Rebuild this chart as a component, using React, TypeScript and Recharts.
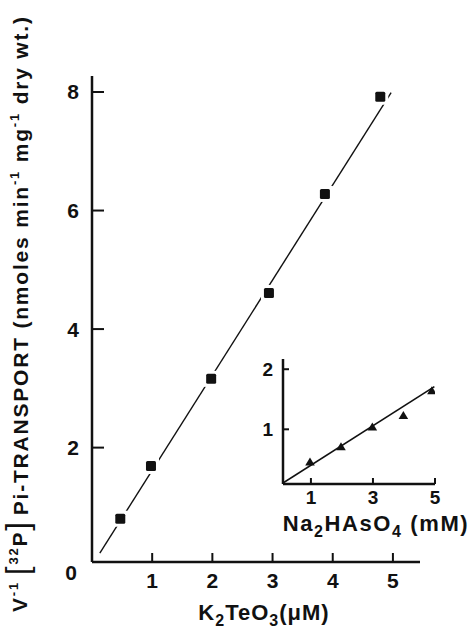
import React from "react";
import { Scatter, ScatterChart, XAxis, YAxis } from "recharts";

// main plot: K2TeO3 (uM) vs 1/v
const telluriteConc = [0.47, 0.98, 1.98, 2.94, 3.87, 4.79];
const inverseRate = [0.8, 1.69, 3.16, 4.61, 6.28, 7.92];
const telluriteFitX = [0.13, 4.97];
const telluriteFitY = [0.22, 7.99];
const mainXTicks = [0, 1, 2, 3, 4, 5];
const mainYTicks = [2, 4, 6, 8];

// inset: Na2HAsO4 (mM)
const arsenateConc = [0.97, 1.97, 2.98, 3.98, 4.9];
const arsenateRate = [0.455, 0.71, 1.04, 1.23, 1.64];
const arsenateFitX = [0.08, 4.98];
const arsenateFitY = [0.1, 1.71];
const insetXTicks = [1, 3, 5];
const insetYTicks = [1, 2];

const FONT = "'Liberation Sans', Arial, sans-serif";
const INK = "#111";

const zip = (xs: number[], ys: number[]) => xs.map((x, i) => ({ x, y: ys[i] }));

const mainPoints = zip(telluriteConc, inverseRate);
const mainFit = zip(telluriteFitX, telluriteFitY);
const insetPoints = zip(arsenateConc, arsenateRate);
const insetFit = zip(arsenateFitX, arsenateFitY);

function Square({ cx, cy }: { cx?: number; cy?: number }) {
  if (cx == null || cy == null) return <g />;
  return (
    <g>
      <rect x={cx - 8} y={cy - 8} width={16} height={16} fill="#fff" />
      <rect x={cx - 5} y={cy - 5} width={10} height={10} rx={1.5} fill={INK} />
    </g>
  );
}

function Triangle({ cx, cy }: { cx?: number; cy?: number }) {
  if (cx == null || cy == null) return <g />;
  return <path d={`M${cx},${cy - 4.5} L${cx + 4.8},${cy + 3.5} L${cx - 4.8},${cy + 3.5} Z`} fill={INK} />;
}

const NoDot = () => <g />;

function MainXTick({ x, y, payload }: any) {
  const zero = payload.value === 0;
  return (
    <text
      x={zero ? x - 21 : x}
      y={zero ? y - 8 : y}
      dy="0.71em"
      textAnchor="middle"
      fontFamily={FONT}
      fontWeight="bold"
      fontSize={21}
      fill={INK}
    >
      {payload.value}
    </text>
  );
}

function NumTick({ x, y, payload, textAnchor, size, vertical }: any) {
  return (
    <text
      x={x}
      y={y}
      dy={vertical ? "0.355em" : "0.71em"}
      textAnchor={textAnchor}
      fontFamily={FONT}
      fontWeight="bold"
      fontSize={size}
      fill={INK}
    >
      {payload.value}
    </text>
  );
}

const axisLine = { stroke: INK, strokeWidth: 2.5 };
const tickLine = { stroke: INK, strokeWidth: 2 };

function Labels() {
  return (
    <svg
      width={470}
      height={632}
      style={{ position: "absolute", left: 0, top: 0, pointerEvents: "none" }}
    >
      <text
        transform="translate(27,612) rotate(-90)"
        fontFamily={FONT}
        fontWeight="bold"
        fontSize={21}
        letterSpacing={1.8}
        fill={INK}
      >
        <tspan>V</tspan>
        <tspan dy={-9} fontSize={13}>-1</tspan>
        <tspan dy={10} dx={6} fontSize={31} fontWeight="normal">[</tspan>
        <tspan dy={-10} fontSize={13}>32</tspan>
        <tspan dy={9}>P</tspan>
        <tspan dy={1} fontSize={31} fontWeight="normal">]</tspan>
        <tspan dx={5}>Pi-TRANSPORT (nmoles min</tspan>
        <tspan dy={-9} fontSize={13}>-1</tspan>
        <tspan dy={9}> mg</tspan>
        <tspan dy={-9} fontSize={13}>-1</tspan>
        <tspan dy={9}> dry wt.)</tspan>
      </text>
      <text x={264} y={620} textAnchor="middle" fontFamily={FONT} fontWeight="bold" fontSize={22} letterSpacing={1} fill={INK}>
        <tspan>K</tspan>
        <tspan dy={6} fontSize={16}>2</tspan>
        <tspan dy={-6}>TeO</tspan>
        <tspan dy={6} fontSize={16}>3</tspan>
        <tspan dy={-6}>(μM)</tspan>
      </text>
      <text x={376} y={531} textAnchor="middle" fontFamily={FONT} fontWeight="bold" fontSize={22} letterSpacing={1.6} fill={INK}>
        <tspan>Na</tspan>
        <tspan dy={6} fontSize={16}>2</tspan>
        <tspan dy={-6}>HAsO</tspan>
        <tspan dy={6} fontSize={16}>4</tspan>
        <tspan dy={-6}> (mM)</tspan>
      </text>
    </svg>
  );
}

export default function App() {
  return (
    <div style={{ position: "absolute", left: 0, top: 0, width: 470, height: 632, background: "#fff" }}>
      <div style={{ position: "absolute", left: 0, top: 0 }}>
        <ScatterChart width={470} height={632} margin={{ top: 76, right: 50, bottom: 40, left: 0 }}>
          <XAxis
            type="number"
            dataKey="x"
            domain={[0, 5.45]}
            allowDataOverflow
            ticks={mainXTicks}
            height={30}
            axisLine={axisLine}
            tickLine={tickLine}
            tickSize={-9}
            tickMargin={20}
            tick={<MainXTick />}
            interval={0}
          />
          <YAxis
            type="number"
            dataKey="y"
            domain={[0.07, 8.27]}
            allowDataOverflow
            ticks={mainYTicks}
            width={92}
            axisLine={axisLine}
            tickLine={tickLine}
            tickSize={-12}
            tickMargin={25}
            tick={<NumTick size={21} vertical />}
            interval={0}
          />
          <Scatter data={mainFit} line={{ stroke: INK, strokeWidth: 1.4 }} shape={<NoDot />} isAnimationActive={false} />
          <Scatter data={mainPoints} shape={<Square />} isAnimationActive={false} />
        </ScatterChart>
      </div>
      <div style={{ position: "absolute", left: 240, top: 340 }}>
        <ScatterChart width={230} height={200} margin={{ top: 19, right: 35, bottom: 26, left: 0 }}>
          <XAxis
            type="number"
            dataKey="x"
            domain={[0.1, 5]}
            allowDataOverflow
            ticks={insetXTicks}
            height={30}
            axisLine={axisLine}
            tickLine={tickLine}
            tickSize={-6}
            tickMargin={13}
            tick={<NumTick size={19} />}
            interval={0}
          />
          <YAxis
            type="number"
            dataKey="y"
            domain={[0.09, 2.17]}
            allowDataOverflow
            ticks={insetYTicks}
            width={43}
            axisLine={axisLine}
            tickLine={tickLine}
            tickSize={-6}
            tickMargin={16}
            tick={<NumTick size={19} vertical />}
            interval={0}
          />
          <Scatter data={insetFit} line={{ stroke: INK, strokeWidth: 1.6 }} shape={<NoDot />} isAnimationActive={false} />
          <Scatter data={insetPoints} shape={<Triangle />} isAnimationActive={false} />
        </ScatterChart>
      </div>
      <Labels />
    </div>
  );
}
